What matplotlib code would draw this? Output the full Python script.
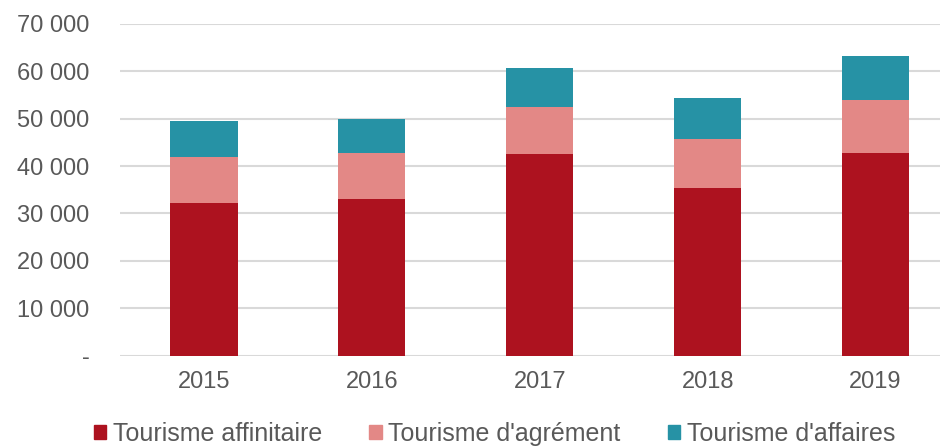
import matplotlib
matplotlib.use('Agg')
import matplotlib.pyplot as plt
from matplotlib.patches import Patch
from matplotlib.ticker import FuncFormatter
import numpy as np

# données
annees = ['2015', '2016', '2017', '2018', '2019']
affinitaire = [32300, 33100, 42500, 35350, 42850]
agrement = [9700, 9700, 10050, 10350, 11100]
affaires = [7500, 7200, 8100, 8700, 9350]
series_noms = ['Tourisme affinitaire', "Tourisme d'agrément", "Tourisme d'affaires"]

couleurs = ['#AD121F', '#E38886', '#2692A5']
gris_texte = '#595959'

plt.rcParams['font.family'] = ['Liberation Sans', 'DejaVu Sans']

fig = plt.figure(figsize=(9.4, 4.47), dpi=100)
ax = fig.add_axes([120 / 940, 91.5 / 447, 839.5 / 940, 331.5 / 447])

x = np.arange(len(annees))
largeur = 0.4
bas = np.zeros(len(annees))
for valeurs, c in zip([affinitaire, agrement, affaires], couleurs):
    ax.bar(x, valeurs, largeur, bottom=bas, color=c, zorder=3)
    bas += np.array(valeurs)

ax.set_xlim(-0.5, len(annees) - 0.5)
ax.set_ylim(0, 70000)
ax.set_yticks(range(0, 70001, 10000))
ax.yaxis.set_major_formatter(FuncFormatter(
    lambda v, p: '-' if v == 0 else f'{int(v):,}'.replace(',', ' ')))
ax.set_xticks(x)
ax.set_xticklabels(annees)

ax.grid(axis='y', color='#D9D9D9', linewidth=1.5, zorder=0)
for s in ax.spines.values():
    s.set_visible(False)
ax.tick_params(axis='both', length=0, labelsize=17, colors=gris_texte)
ax.tick_params(axis='y', pad=22)
ax.tick_params(axis='x', pad=11)

poignees = [Patch(color=c) for c in couleurs]
fig.legend(poignees, series_noms, loc='center', bbox_to_anchor=(0.526, 0.03),
           ncol=3, frameon=False, fontsize=18, labelcolor=gris_texte,
           handlelength=0.5, handleheight=0.5, handletextpad=0.25,
           columnspacing=1.9, borderpad=0)

fig.savefig('out.png', dpi=100)
